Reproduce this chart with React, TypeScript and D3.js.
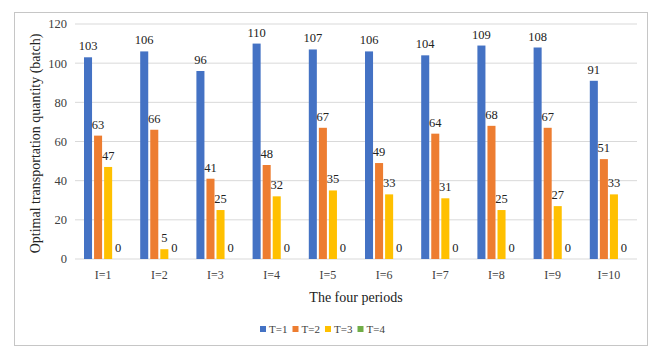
import React from "react";
import * as d3 from "d3";

// periods on the x axis
const categories = ["I=1", "I=2", "I=3", "I=4", "I=5", "I=6", "I=7", "I=8", "I=9", "I=10"];
const seriesNames = ["T=1", "T=2", "T=3", "T=4"];
const t1 = [103, 106, 96, 110, 107, 106, 104, 109, 108, 91];
const t2 = [63, 66, 41, 48, 67, 49, 64, 68, 67, 51];
const t3 = [47, 5, 25, 32, 35, 33, 31, 25, 27, 33];
const t4 = [0, 0, 0, 0, 0, 0, 0, 0, 0, 0];
const yTicks = [0, 20, 40, 60, 80, 100, 120];

const colors = ["#4472C4", "#ED7D31", "#FFC000", "#70AD47"];
const font = "'Liberation Serif', 'Times New Roman', serif";

export default function App() {
    const width = 662;
    const height = 350;
    const margin = { top: 24, right: 25, bottom: 91, left: 75 };
    const series = [t1, t2, t3, t4];

    const x = d3
        .scaleBand()
        .domain(categories)
        .range([margin.left, width - margin.right]);
    const xs = d3
        .scaleBand()
        .domain(seriesNames)
        .range([9, x.bandwidth() - 9])
        .paddingInner(0.2);
    const y = d3
        .scaleLinear()
        .domain([0, 120])
        .range([height - margin.bottom, margin.top]);

    return (
        <svg
            width={width}
            height={height}
            style={{ position: "absolute", left: 0, top: 0, fontFamily: font }}
        >
            <rect x={0} y={0} width={width} height={height} fill="#fff" />
            <rect x={14.5} y={12.5} width={633} height={333} fill="none" stroke="#c6c6c6" />

            {/* grid + y ticks */}
            {yTicks.map((t) => (
                <g key={t}>
                    <line
                        x1={margin.left}
                        x2={width - margin.right}
                        y1={y(t)}
                        y2={y(t)}
                        stroke="#d9d9d9"
                        strokeWidth={1}
                    />
                    <text x={67} y={y(t)} dy="0.35em" textAnchor="end" fontSize={12.5} fill="#404040">
                        {t}
                    </text>
                </g>
            ))}

            {/* bars */}
            {series.map((vals, si) =>
                vals.map((v, i) => {
                    const bx = x(categories[i])! + xs(seriesNames[si])!;
                    return (
                        <g key={si + "-" + i}>
                            <rect
                                x={bx}
                                y={y(v)}
                                width={xs.bandwidth()}
                                height={y(0) - y(v)}
                                fill={colors[si]}
                            />
                            <text
                                x={bx + xs.bandwidth() / 2}
                                y={y(v) - 7}
                                textAnchor="middle"
                                fontSize={12.5}
                                fill="#222"
                            >
                                {v}
                            </text>
                        </g>
                    );
                })
            )}

            {/* x labels */}
            {categories.map((c) => (
                <text
                    key={c}
                    x={x(c)! + x.bandwidth() / 2}
                    y={y(0) + 20}
                    textAnchor="middle"
                    fontSize={12}
                    fill="#404040"
                >
                    {c}
                </text>
            ))}

            <text x={(margin.left + width - margin.right) / 2} y={302} textAnchor="middle" fontSize={14} fill="#222">
                The four periods
            </text>
            <text
                transform={`translate(40,${(margin.top + height - margin.bottom) / 2 + 2}) rotate(-90)`}
                textAnchor="middle"
                fontSize={14}
                fill="#222"
            >
                Optimal transportation quantity (batch)
            </text>

            {/* legend */}
            {seriesNames.map((s, i) => (
                <g key={s} transform={`translate(${260 + i * 32.5},326)`}>
                    <rect x={0} y={0} width={6} height={6} fill={colors[i]} />
                    <text x={9} y={3} dy="0.35em" fontSize={11} fill="#404040">
                        {s}
                    </text>
                </g>
            ))}
        </svg>
    );
}
